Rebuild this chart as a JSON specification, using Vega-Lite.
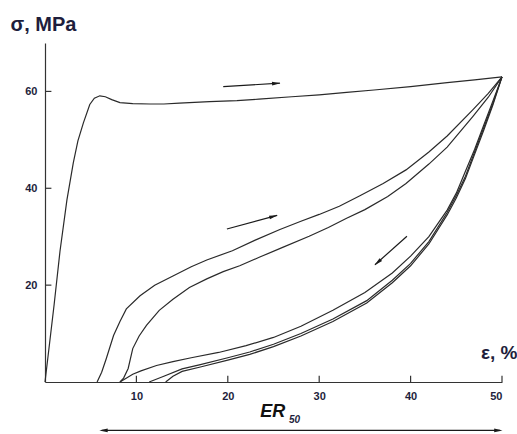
{
  "$schema": "https://vega.github.io/schema/vega-lite/v6.json",
  "width": 457,
  "height": 339,
  "autosize": "none",
  "padding": {"left": 45, "top": 43, "right": 15, "bottom": 52},
  "background": "white",
  "config": {"view": {"stroke": null}, "font": "Liberation Sans"},
  "datasets": {
    "curves": [
      {"s": "load1", "x": 0, "y": 0}, {"s": "load1", "x": 1, "y": 16}, {"s": "load1", "x": 1.64, "y": 27}, {"s": "load1", "x": 2.4, "y": 37.6}, {"s": "load1", "x": 3.1, "y": 45.3}, {"s": "load1", "x": 3.6, "y": 49.8}, {"s": "load1", "x": 4.2, "y": 53.5}, {"s": "load1", "x": 4.9, "y": 57.3}, {"s": "load1", "x": 5.4, "y": 58.6}, {"s": "load1", "x": 6.0, "y": 59.1}, {"s": "load1", "x": 6.6, "y": 58.9}, {"s": "load1", "x": 7.3, "y": 58.3}, {"s": "load1", "x": 8.2, "y": 57.7}, {"s": "load1", "x": 9.6, "y": 57.5}, {"s": "load1", "x": 11.5, "y": 57.4}, {"s": "load1", "x": 13, "y": 57.4}, {"s": "load1", "x": 14.7, "y": 57.6}, {"s": "load1", "x": 18, "y": 57.9}, {"s": "load1", "x": 21, "y": 58.1}, {"s": "load1", "x": 23.4, "y": 58.4}, {"s": "load1", "x": 27, "y": 58.9}, {"s": "load1", "x": 30, "y": 59.3}, {"s": "load1", "x": 33, "y": 59.8}, {"s": "load1", "x": 36, "y": 60.3}, {"s": "load1", "x": 40, "y": 61.0}, {"s": "load1", "x": 44, "y": 61.8}, {"s": "load1", "x": 47, "y": 62.4}, {"s": "load1", "x": 50, "y": 63},

      {"s": "reloadA", "x": 5.7, "y": 0}, {"s": "reloadA", "x": 6.2, "y": 2}, {"s": "reloadA", "x": 6.7, "y": 4.8}, {"s": "reloadA", "x": 7.5, "y": 9.6}, {"s": "reloadA", "x": 8.2, "y": 12.5}, {"s": "reloadA", "x": 8.9, "y": 15.1}, {"s": "reloadA", "x": 10.4, "y": 17.8}, {"s": "reloadA", "x": 12, "y": 20}, {"s": "reloadA", "x": 14, "y": 21.9}, {"s": "reloadA", "x": 16, "y": 23.8}, {"s": "reloadA", "x": 17.7, "y": 25.2}, {"s": "reloadA", "x": 20.5, "y": 27.1}, {"s": "reloadA", "x": 23, "y": 29.3}, {"s": "reloadA", "x": 25.7, "y": 31.5}, {"s": "reloadA", "x": 28, "y": 33.2}, {"s": "reloadA", "x": 30, "y": 34.6}, {"s": "reloadA", "x": 32.2, "y": 36.3}, {"s": "reloadA", "x": 34.4, "y": 38.4}, {"s": "reloadA", "x": 37, "y": 41}, {"s": "reloadA", "x": 39.5, "y": 43.8}, {"s": "reloadA", "x": 42, "y": 47.5}, {"s": "reloadA", "x": 44, "y": 50.8}, {"s": "reloadA", "x": 46.8, "y": 56.2}, {"s": "reloadA", "x": 48.5, "y": 59.6}, {"s": "reloadA", "x": 50, "y": 63},

      {"s": "reloadB", "x": 8.2, "y": 0}, {"s": "reloadB", "x": 8.6, "y": 0.8}, {"s": "reloadB", "x": 9.1, "y": 2.8}, {"s": "reloadB", "x": 9.6, "y": 6.9}, {"s": "reloadB", "x": 10.3, "y": 9.5}, {"s": "reloadB", "x": 11.1, "y": 11.7}, {"s": "reloadB", "x": 12.5, "y": 14.8}, {"s": "reloadB", "x": 14, "y": 17.1}, {"s": "reloadB", "x": 15.8, "y": 19.5}, {"s": "reloadB", "x": 17.7, "y": 21.3}, {"s": "reloadB", "x": 19.5, "y": 22.8}, {"s": "reloadB", "x": 21.3, "y": 24}, {"s": "reloadB", "x": 23.5, "y": 25.8}, {"s": "reloadB", "x": 26, "y": 27.8}, {"s": "reloadB", "x": 28.9, "y": 30.1}, {"s": "reloadB", "x": 31, "y": 31.9}, {"s": "reloadB", "x": 33, "y": 33.8}, {"s": "reloadB", "x": 35, "y": 35.6}, {"s": "reloadB", "x": 37.5, "y": 38.3}, {"s": "reloadB", "x": 39.5, "y": 41}, {"s": "reloadB", "x": 42, "y": 45}, {"s": "reloadB", "x": 44, "y": 48.5}, {"s": "reloadB", "x": 46.8, "y": 54.8}, {"s": "reloadB", "x": 48.5, "y": 58.8}, {"s": "reloadB", "x": 50, "y": 63},

      {"s": "unload1", "x": 8.2, "y": 0}, {"s": "unload1", "x": 9.6, "y": 1.6}, {"s": "unload1", "x": 10.5, "y": 2.3}, {"s": "unload1", "x": 12.2, "y": 3.4}, {"s": "unload1", "x": 14, "y": 4.2}, {"s": "unload1", "x": 16, "y": 5.0}, {"s": "unload1", "x": 19, "y": 6.1}, {"s": "unload1", "x": 22, "y": 7.5}, {"s": "unload1", "x": 25, "y": 9.2}, {"s": "unload1", "x": 28, "y": 11.5}, {"s": "unload1", "x": 31.5, "y": 14.8}, {"s": "unload1", "x": 35, "y": 18.5}, {"s": "unload1", "x": 38, "y": 22.5}, {"s": "unload1", "x": 40, "y": 26}, {"s": "unload1", "x": 42, "y": 30}, {"s": "unload1", "x": 44, "y": 35.5}, {"s": "unload1", "x": 45, "y": 39}, {"s": "unload1", "x": 46, "y": 43.5}, {"s": "unload1", "x": 47, "y": 48}, {"s": "unload1", "x": 48, "y": 53}, {"s": "unload1", "x": 49, "y": 58}, {"s": "unload1", "x": 50, "y": 63},

      {"s": "unload2", "x": 11.4, "y": 0}, {"s": "unload2", "x": 13, "y": 1.2}, {"s": "unload2", "x": 15, "y": 2.7}, {"s": "unload2", "x": 17, "y": 3.6}, {"s": "unload2", "x": 20, "y": 5.0}, {"s": "unload2", "x": 22.4, "y": 6.2}, {"s": "unload2", "x": 25, "y": 7.8}, {"s": "unload2", "x": 28, "y": 10}, {"s": "unload2", "x": 31.5, "y": 13}, {"s": "unload2", "x": 35.2, "y": 16.8}, {"s": "unload2", "x": 38, "y": 21}, {"s": "unload2", "x": 40, "y": 24.5}, {"s": "unload2", "x": 42, "y": 29}, {"s": "unload2", "x": 44, "y": 35}, {"s": "unload2", "x": 45, "y": 38.5}, {"s": "unload2", "x": 46, "y": 42.5}, {"s": "unload2", "x": 47, "y": 47.5}, {"s": "unload2", "x": 48, "y": 52.5}, {"s": "unload2", "x": 49, "y": 57.5}, {"s": "unload2", "x": 50, "y": 63},

      {"s": "unload3", "x": 13.2, "y": 0}, {"s": "unload3", "x": 14, "y": 1.2}, {"s": "unload3", "x": 15, "y": 2.2}, {"s": "unload3", "x": 17, "y": 3.1}, {"s": "unload3", "x": 20, "y": 4.5}, {"s": "unload3", "x": 22.4, "y": 5.7}, {"s": "unload3", "x": 25, "y": 7.3}, {"s": "unload3", "x": 28, "y": 9.5}, {"s": "unload3", "x": 31.5, "y": 12.5}, {"s": "unload3", "x": 35.2, "y": 16.3}, {"s": "unload3", "x": 38, "y": 20.5}, {"s": "unload3", "x": 40, "y": 24}, {"s": "unload3", "x": 42, "y": 28.5}, {"s": "unload3", "x": 44, "y": 34.5}, {"s": "unload3", "x": 45, "y": 38}, {"s": "unload3", "x": 46, "y": 42}, {"s": "unload3", "x": 47, "y": 47}, {"s": "unload3", "x": 48, "y": 52}, {"s": "unload3", "x": 49, "y": 57.2}, {"s": "unload3", "x": 50, "y": 63}
    ],
    "arrows": [
      {"id": "a1", "x": 19.5, "y": 61.0, "x2": 25.7, "y2": 61.7},
      {"id": "a2", "x": 19.9, "y": 31.6, "x2": 25.4, "y2": 34.4},
      {"id": "a3", "x": 39.6, "y": 30.1, "x2": 36.1, "y2": 24.2},
      {"id": "er", "x": 6.2, "y": -10, "x2": 49.8, "y2": -10}
    ],
    "heads": [
      {"x": 25.3, "y": 61.65, "angle": 86.6},
      {"x": 25.0, "y": 34.2, "angle": 75},
      {"x": 36.4, "y": 24.7, "angle": 228},
      {"x": 6.4, "y": -10, "angle": 270},
      {"x": 49.6, "y": -10, "angle": 90}
    ],
    "xticks": [{"x": 10}, {"x": 20}, {"x": 30}, {"x": 40}, {"x": 50}],
    "yticks": [{"y": 20}, {"y": 40}, {"y": 60}],
    "erMain": [{"x": 26.3, "y": -7.26, "t": "ER"}],
    "erSub": [{"x": 26.7, "y": -8.4, "t": "50"}]
  },
  "layer": [
    {
      "data": {"name": "curves"},
      "mark": {"type": "line", "color": "#2a2a2a", "strokeWidth": 1.2},
      "encoding": {
        "x": {
          "field": "x", "type": "quantitative",
          "scale": {"domain": [0, 50], "nice": false},
          "axis": {
            "values": [10, 20, 30, 40, 50],
            "grid": false,
            "domainColor": "#333", "domainWidth": 1.2,
            "ticks": false,
            "labelPadding": 8,
            "labelFont": "Liberation Sans", "labelFontSize": 11, "labelFontWeight": "bold", "labelColor": "#1e1e3c",
            "title": "ε, %",
            "titleFont": "Liberation Sans", "titleFontSize": 19, "titleFontWeight": "bold", "titleColor": "#1e1e3c",
            "titleAlign": "right", "titleAnchor": null, "titleX": 472, "titleY": -24, "titleBaseline": "alphabetic"
          }
        },
        "y": {
          "field": "y", "type": "quantitative",
          "scale": {"domain": [0, 70], "nice": false},
          "axis": {
            "values": [20, 40, 60],
            "grid": false,
            "domainColor": "#333", "domainWidth": 1.2,
            "ticks": false,
            "labelPadding": 8,
            "labelFont": "Liberation Sans", "labelFontSize": 11, "labelFontWeight": "bold", "labelColor": "#1e1e3c",
            "title": "σ, MPa",
            "titleFont": "Liberation Sans", "titleFontSize": 20, "titleFontWeight": "bold", "titleColor": "#1e1e3c",
            "titleAngle": 0, "titleAlign": "left", "titleAnchor": null, "titleX": -35, "titleY": -13, "titleBaseline": "alphabetic"
          }
        },
        "detail": {"field": "s", "type": "nominal"}
      }
    },
    {
      "data": {"name": "xticks"},
      "mark": {"type": "rule", "color": "#333", "strokeWidth": 1.2},
      "encoding": {
        "x": {"field": "x", "type": "quantitative"},
        "y": {"datum": 0},
        "y2": {"datum": 1.3}
      }
    },
    {
      "data": {"name": "yticks"},
      "mark": {"type": "rule", "color": "#333", "strokeWidth": 1.2},
      "encoding": {
        "y": {"field": "y", "type": "quantitative"},
        "x": {"datum": 0},
        "x2": {"datum": 0.7}
      }
    },
    {
      "data": {"name": "arrows"},
      "mark": {"type": "rule", "color": "#1a1a1a", "strokeWidth": 1.2},
      "encoding": {
        "x": {"field": "x", "type": "quantitative"},
        "y": {"field": "y", "type": "quantitative"},
        "x2": {"field": "x2"},
        "y2": {"field": "y2"}
      }
    },
    {
      "data": {"name": "heads"},
      "mark": {"type": "point", "shape": "M0,-1L0.45,1L-0.45,1Z", "filled": true, "color": "#1a1a1a", "size": 70, "opacity": 1},
      "encoding": {
        "x": {"field": "x", "type": "quantitative"},
        "y": {"field": "y", "type": "quantitative"},
        "angle": {"field": "angle", "type": "quantitative", "scale": null}
      }
    },
    {
      "data": {"name": "erMain"},
      "mark": {"type": "text", "align": "right", "baseline": "alphabetic", "font": "Liberation Sans", "fontSize": 18, "fontWeight": "bold", "fontStyle": "italic", "color": "#111"},
      "encoding": {
        "x": {"field": "x", "type": "quantitative"},
        "y": {"field": "y", "type": "quantitative"},
        "text": {"field": "t"}
      }
    },
    {
      "data": {"name": "erSub"},
      "mark": {"type": "text", "align": "left", "baseline": "alphabetic", "font": "Liberation Sans", "fontSize": 10, "fontWeight": "bold", "fontStyle": "italic", "color": "#1e1e3c"},
      "encoding": {
        "x": {"field": "x", "type": "quantitative"},
        "y": {"field": "y", "type": "quantitative"},
        "text": {"field": "t"}
      }
    }
  ]
}
